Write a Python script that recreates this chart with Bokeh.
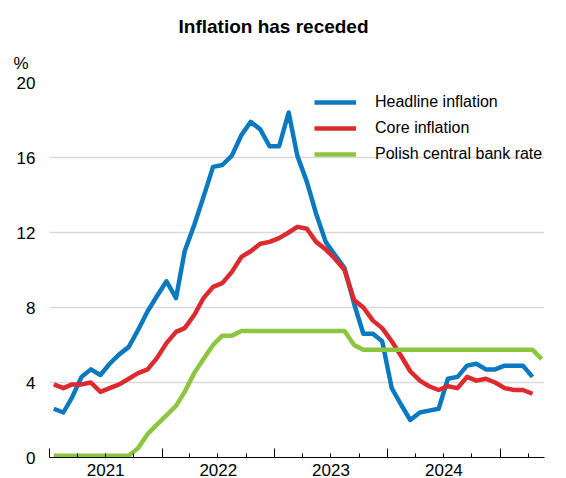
from datetime import datetime
import pandas as pd
from bokeh.plotting import figure
from bokeh.models import (Range1d, FixedTicker, LinearAxis, Legend, LegendItem,
                          Title, ColumnDataSource)
from bokeh.embed import file_html
from bokeh.resources import INLINE

# ---- data (monthly, Jan 2021 onwards) ----
headline = [2.6, 2.4, 3.2, 4.3, 4.7, 4.4, 5.0, 5.5, 5.9, 6.8, 7.8, 8.6,
            9.4, 8.5, 11.0, 12.4, 13.9, 15.5, 15.6, 16.1, 17.2, 17.9, 17.5, 16.6,
            16.6, 18.4, 16.1, 14.7, 13.0, 11.5, 10.8, 10.1, 8.2, 6.6, 6.6, 6.2,
            3.7, 2.8, 2.0, 2.4, 2.5, 2.6, 4.2, 4.3, 4.9, 5.0, 4.7, 4.7,
            4.9, 4.9, 4.9, 4.3]
core = [3.9, 3.7, 3.9, 3.9, 4.0, 3.5, 3.7, 3.9, 4.2, 4.5, 4.7, 5.3,
        6.1, 6.7, 6.9, 7.6, 8.5, 9.1, 9.3, 9.9, 10.7, 11.0, 11.4, 11.5,
        11.7, 12.0, 12.3, 12.2, 11.5, 11.1, 10.6, 10.0, 8.4, 8.0, 7.3, 6.9,
        6.2, 5.4, 4.6, 4.1, 3.8, 3.6, 3.8, 3.7, 4.3, 4.1, 4.2, 4.0,
        3.7, 3.6, 3.6, 3.4]
policy_rate = [0.1, 0.1, 0.1, 0.1, 0.1, 0.1, 0.1, 0.1, 0.1, 0.5, 1.25, 1.75,
               2.25, 2.75, 3.5, 4.5, 5.25, 6.0, 6.5, 6.5, 6.75, 6.75, 6.75, 6.75,
               6.75, 6.75, 6.75, 6.75, 6.75, 6.75, 6.75, 6.75, 6.0, 5.75, 5.75, 5.75,
               5.75, 5.75, 5.75, 5.75, 5.75, 5.75, 5.75, 5.75, 5.75, 5.75, 5.75, 5.75,
               5.75, 5.75, 5.75, 5.75, 5.25]
series_names = ["Headline inflation", "Core inflation", "Polish central bank rate"]
colors = ["#0b79bf", "#dd2a2f", "#8cc63f"]
year_labels = ["2021", "2022", "2023", "2024"]
y_ticks = [0, 4, 8, 12, 16, 20]

months = pd.date_range("2021-01-01", periods=len(policy_rate), freq="MS") + pd.Timedelta(days=14)
src_h = ColumnDataSource(dict(x=months[:len(headline)], y=headline))
src_c = ColumnDataSource(dict(x=months[:len(core)], y=core))
src_p = ColumnDataSource(dict(x=months, y=policy_rate))

FONT = "Liberation Sans"


def ms(d):
    return (d - datetime(1970, 1, 1)).total_seconds() * 1000.0


p = figure(width=566, height=478, x_axis_type="datetime",
           x_range=Range1d(datetime(2021, 1, 1), datetime(2025, 5, 24)),
           y_range=Range1d(0, 20),
           output_backend="svg", toolbar_location=None,
           min_border_left=49, min_border_right=22,
           min_border_top=82, min_border_bottom=0)
p.outline_line_color = None
p.background_fill_color = "white"
p.title = None

# titles stacked above the frame: "%" closest, chart title further up
pct = Title(text="%", align="left", offset=-36, standoff=20,
            text_font=FONT, text_font_size="17px", text_font_style="normal",
            text_color="black")
main_title = Title(text="Inflation has receded", align="left", offset=129, standoff=9,
                   text_font=FONT, text_font_size="19px", text_font_style="bold",
                   text_color="black")
p.add_layout(pct, "above")
p.add_layout(main_title, "above")

# lines
r_h = p.line("x", "y", source=src_h, color=colors[0], line_width=4.5, line_join="round")
r_c = p.line("x", "y", source=src_c, color=colors[1], line_width=4.5, line_join="round")
r_p = p.line("x", "y", source=src_p, color=colors[2], line_width=4.5, line_join="round")

# y axis
yax = p.yaxis[0]
yax.ticker = FixedTicker(ticks=y_ticks)
yax.axis_line_color = None
yax.major_tick_line_color = None
yax.minor_tick_line_color = None
yax.major_label_text_font = FONT
yax.major_label_text_font_size = "17px"
yax.major_label_text_color = "black"
yax.major_label_text_align = "center"
yax.major_label_standoff = 8

p.ygrid.ticker = FixedTicker(ticks=y_ticks)
p.ygrid.grid_line_color = "#d9d9d9"
p.ygrid.grid_line_width = 1.5
p.xgrid.visible = False

# x axis: ticks at year starts / quarters (no labels)
years = [2021, 2022, 2023, 2024, 2025]
major = [ms(datetime(y, 1, 1)) for y in years]
minor = [ms(datetime(y, m, 1)) for y in years for m in (4, 7, 10)]
xax = p.xaxis[0]
xax.ticker = FixedTicker(ticks=major, minor_ticks=minor)
xax.axis_line_color = "black"
xax.axis_line_width = 1
xax.major_tick_in = 9
xax.major_tick_out = 0
xax.minor_tick_in = 4
xax.minor_tick_out = 0
xax.major_tick_line_color = "black"
xax.minor_tick_line_color = "black"
xax.major_label_text_font_size = "0px"
xax.major_label_text_color = None
xax.major_label_standoff = 0

# x axis: year labels centred mid-year
mids = [ms(datetime(int(y), 7, 2)) for y in year_labels]
lab_ax = LinearAxis(ticker=FixedTicker(ticks=mids),
                    major_label_overrides={m: y for m, y in zip(mids, year_labels)})
lab_ax.axis_line_color = None
lab_ax.major_tick_line_color = None
lab_ax.minor_tick_line_color = None
lab_ax.major_tick_in = 0
lab_ax.major_tick_out = 0
lab_ax.minor_tick_in = 0
lab_ax.minor_tick_out = 0
lab_ax.major_label_text_font = FONT
lab_ax.major_label_text_font_size = "17px"
lab_ax.major_label_text_color = "black"
lab_ax.major_label_standoff = 6
p.add_layout(lab_ax, "below")

# legend (kept inside the frame)
legend = Legend(items=[LegendItem(label=n, renderers=[r]) for n, r in
                       zip(series_names, [r_h, r_c, r_p])],
                location=(265, 293), glyph_width=42, glyph_height=20,
                label_height=20, label_standoff=19, spacing=6, padding=0, margin=0,
                border_line_color=None, background_fill_alpha=0,
                label_text_font=FONT, label_text_font_size="16px",
                label_text_color="black")
p.add_layout(legend)

open("out.html", "w").write(file_html(p, INLINE))
